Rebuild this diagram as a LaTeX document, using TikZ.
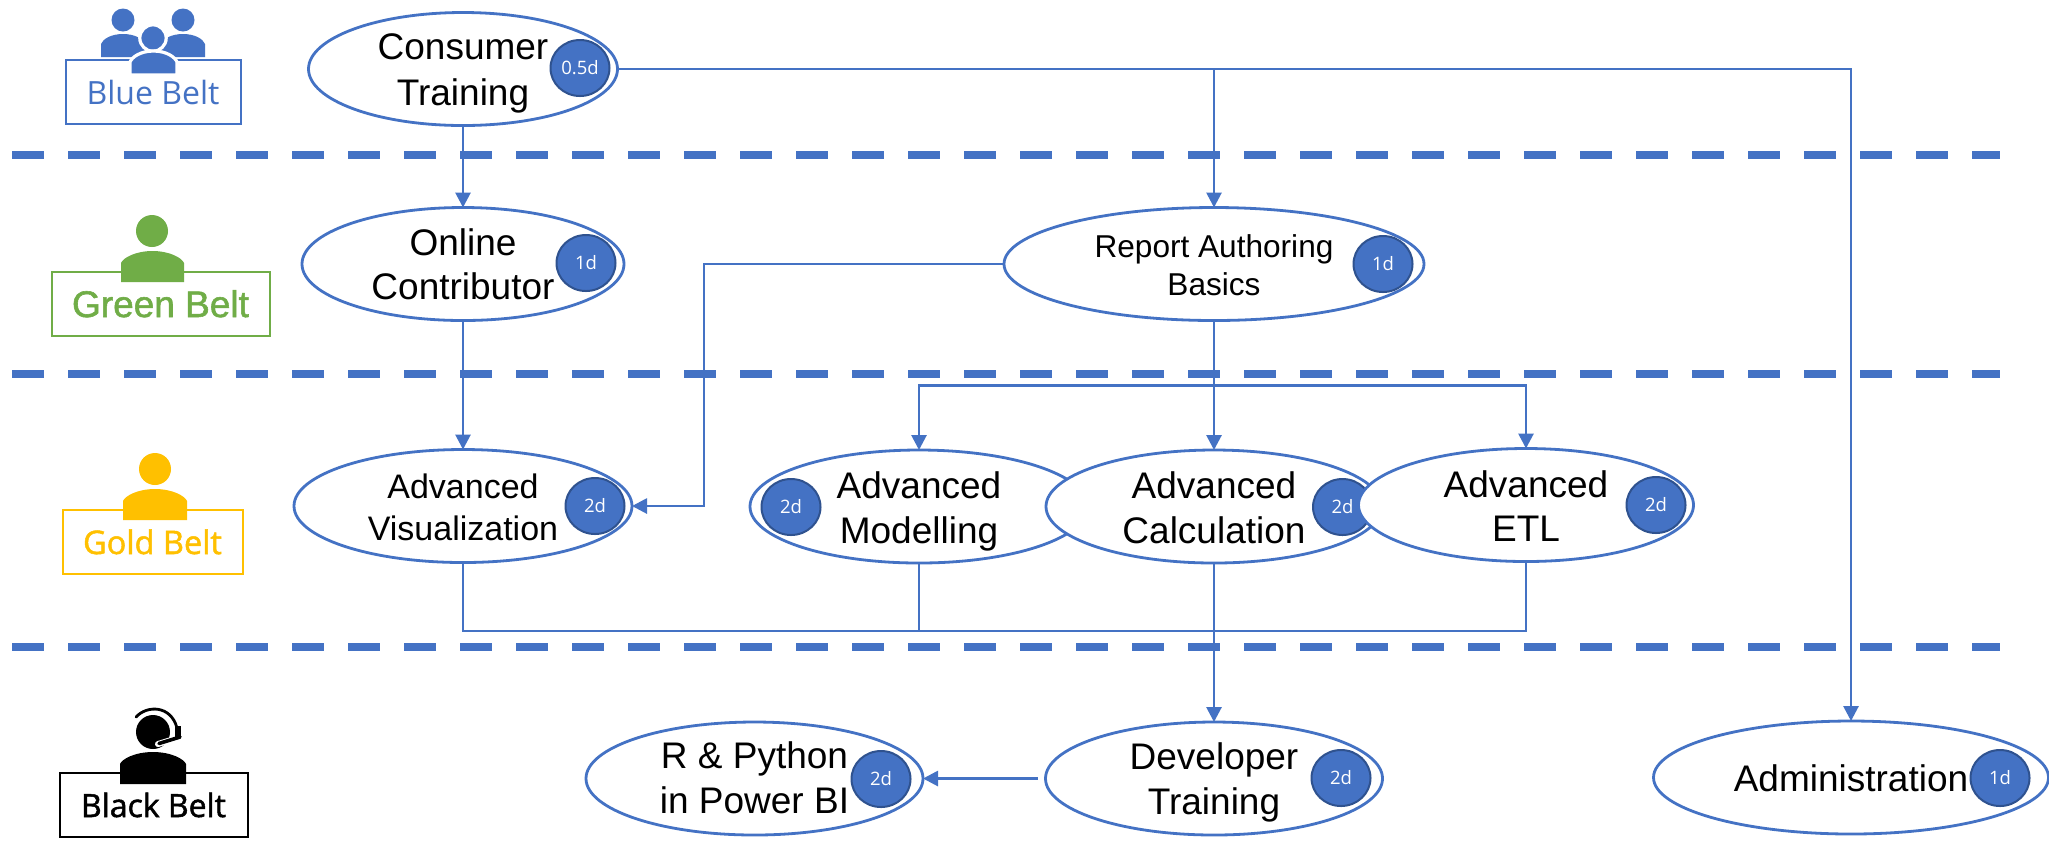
\documentclass[tikz,border=0pt]{standalone}
\usepackage{fontspec}
\setmainfont{Liberation Sans}
\newfontfamily\osans{Open Sans}
\newfontfamily\osansfb[FakeBold=1.5]{Open Sans}
\newfontfamily\lsansfb[FakeBold=1.5]{Liberation Sans}
\usetikzlibrary{shapes.geometric,arrows.meta}
\definecolor{bl}{HTML}{4472C4}
\definecolor{bld}{HTML}{2F528F}
\definecolor{gr}{HTML}{70AD47}
\definecolor{go}{HTML}{FFC000}
% two lines on fixed baselines, taking no room in the node
\newcommand\twol[4]{\raisebox{#1}[0pt][0pt]{\makebox[0pt]{#3}}\raisebox{-#2}[0pt][0pt]{\makebox[0pt]{#4}}}
\newcommand\oneb[2]{\raisebox{-#1}[0pt][0pt]{\makebox[0pt]{#2}}}
% torso: [options] centre, half width, top, shoulder, bottom
\newcommand\torso[6][]{%
  \pgfmathsetmacro\tsL{#2-#3}\pgfmathsetmacro\tsR{#2+#3}%
  \pgfmathsetmacro\tsA{#2-0.55*#3}\pgfmathsetmacro\tsB{#2+0.55*#3}%
  \path[#1] (\tsL,#6) -- (\tsL,#5) .. controls (\tsL+2,#5-5) and (\tsA,#4) .. (#2,#4)
     .. controls (\tsB,#4) and (\tsR-2,#5-5) .. (\tsR,#5) -- (\tsR,#6) -- cycle;}
\tikzset{
  x=0.5pt,y=-0.5pt,
  pill/.style n args={2}{ellipse,draw=bl,line width=1.4pt,fill=white,inner sep=0pt,outer sep=0pt,
    minimum width=#1*0.5pt,minimum height=#2*0.5pt},
  badge/.style={ellipse,draw=bld,line width=1pt,fill=bl,text=white,inner sep=0pt,outer sep=0pt,
    minimum width=29.5pt,minimum height=28pt,font=\osans\fontsize{9.25}{11}\selectfont},
  big/.style={font=\fontsize{18.5}{22}\selectfont},
  mid/.style={font=\fontsize{17}{20}\selectfont},
  small/.style={font=\fontsize{15.8}{19}\selectfont},
  conn/.style={draw=bl,line width=1.4pt},
  arr/.style={conn,-{Triangle[length=7.5pt,width=7.5pt]}},
  sep/.style={draw=bl,line width=4pt,dash pattern=on 16pt off 12pt},
  beltbox/.style={rectangle,line width=1pt,inner sep=0pt,outer sep=0pt,fill=white},
}
\begin{document}
\begin{tikzpicture}
\useasboundingbox (0,0) rectangle (2049,843);
\fill[white] (0,0) rectangle (2049,843);

% separators
\coordinate (s1a) at (12,154.5); \coordinate (s1b) at (2000,154.5);
\coordinate (s2a) at (12,373.5); \coordinate (s2b) at (2000,373.5);
\coordinate (s3a) at (12,647);   \coordinate (s3b) at (2000,647);
\draw[sep] (s1a) -- (s1b);
\draw[sep] (s2a) -- (s2b);
\draw[sep] (s3a) -- (s3b);

% belt boxes
\node[beltbox,draw=bl,text=bl,minimum width=87.5pt,minimum height=32pt,font=\osans\fontsize{16}{19}\selectfont] (bluebox) at (153,91.5) {\oneb{6.25pt}{Blue Belt}};
\node[beltbox,draw=gr,text=gr,minimum width=109pt,minimum height=32pt,font=\lsansfb\fontsize{18.5}{22}\selectfont] (greenbox) at (160.5,303.5) {\oneb{6.75pt}{Green Belt}};
\node[beltbox,draw=go,text=go,minimum width=90pt,minimum height=32pt,font=\osansfb\fontsize{16.25}{19}\selectfont] (goldbox) at (152.5,541.5) {\oneb{6.25pt}{Gold Belt}};
\node[beltbox,draw=black,text=black,minimum width=94pt,minimum height=32pt,font=\osansfb\fontsize{16}{19}\selectfont] (blackbox) at (153.5,805) {\oneb{6pt}{Black Belt}};

% blue group icon
\fill[bl] (123,20) circle[radius=5.75pt];
\fill[bl] (183,20) circle[radius=5.75pt];
\torso[fill=bl]{123}{22}{34}{44}{57}
\torso[fill=bl]{183}{22}{34}{44}{57}
\filldraw[bl,draw=white,line width=1.6pt] (153,38) circle[radius=6.6pt];
\torso[fill=bl,draw=white,line width=1.6pt]{153.5}{23.5}{51}{62}{75}
% green
\fill[gr] (152,231) circle[radius=8pt];
\torso[fill=gr]{152.5}{31.5}{251}{263}{282}
% gold
\fill[go] (155,469) circle[radius=8pt];
\torso[fill=go]{155}{32}{489}{501}{520}
% black headset
\fill[black] (153,732) circle[radius=8.5pt];
\draw[white,line width=3pt,line cap=round] (181,737) -- (158,744);
\draw[black,line width=1.4pt,line cap=round] (136,717) .. controls (147,705) and (171,705) .. (177,728);
\fill[black] (175,726) rectangle (181,738);
\draw[black,line width=1.8pt,line cap=round] (180,737) -- (159,743.5);
\torso[fill=black]{153}{33}{752}{764}{784}

% course nodes
\node[pill={309}{113},big] (cons) at (463,69) {\twol{4.75pt}{18pt}{Consumer}{Training}};
\node[badge] (consb) at (580,68) {0.5d};

\node[pill={322}{113},big] (online) at (463,264) {\twol{4.5pt}{17.5pt}{Online}{Contributor}};
\node[badge] (onlineb) at (586,263) {1d};

\node[pill={420}{113},small] (rep) at (1214,264) {\twol{3.5pt}{15.5pt}{Report Authoring}{Basics}};
\node[badge] (repb) at (1383,264) {1d};

\node[pill={338}{113},mid] (vis) at (463,506) {\twol{4pt}{17pt}{Advanced}{Visualization}};
\node[badge] (visb) at (595,506) {2d};

\node[pill={338}{113},big] (model) at (919,506.5) {\twol{4.25pt}{18.25pt}{Advanced}{Modelling}};
\node[badge] (modelb) at (791,507) {2d};

\node[pill={336}{113},big] (calc) at (1214,506.5) {\twol{4.25pt}{18.25pt}{Advanced}{Calculation}};
\node[badge] (calcb) at (1342.5,507) {2d};

\node[pill={335}{113},big] (etl) at (1526,505) {\twol{4pt}{18pt}{Advanced}{ETL}};
\node[badge] (etlb) at (1656,505) {2d};

\node[pill={337}{113},big] (rpy) at (754.5,778.5) {\twol{5pt}{17.5pt}{R \& Python}{in Power BI}};
\node[badge] (rpyb) at (881,779) {2d};

\node[pill={337}{113},big] (dev) at (1214,778.5) {\twol{4.5pt}{18pt}{Developer}{Training}};
\node[badge] (devb) at (1341,778) {2d};

\node[pill={395}{113},big] (admin) at (1851,777.5) {\oneb{7pt}{Administration}};
\node[badge] (adminb) at (2000,778) {1d};

% junctions
\coordinate (visbend) at (704,264);
\coordinate (hub) at (1214,385.5);
\coordinate (bus) at (1214,631);

% connectors
\draw[arr] (cons.south) -- (online.north);
\draw[arr] (cons.east) -| (rep.north);
\draw[arr] (cons.east) -| (admin.north);
\draw[arr] (online.south) -- (vis.north);
\draw[arr] (rep.west) -- (visbend) |- (vis.east);
\draw[arr] (rep.south) -- (calc.north);
\draw[arr] (hub) -| (model.north);
\draw[arr] (hub) -| (etl.north);
\draw[conn] (vis.south) |- (bus);
\draw[conn] (model.south) |- (bus);
\draw[conn] (etl.south) |- (bus);
\draw[arr] (calc.south) -- (dev.north);
\draw[arr,shorten <=4pt] (dev.west) -- (rpy.east);
\end{tikzpicture}
\end{document}
